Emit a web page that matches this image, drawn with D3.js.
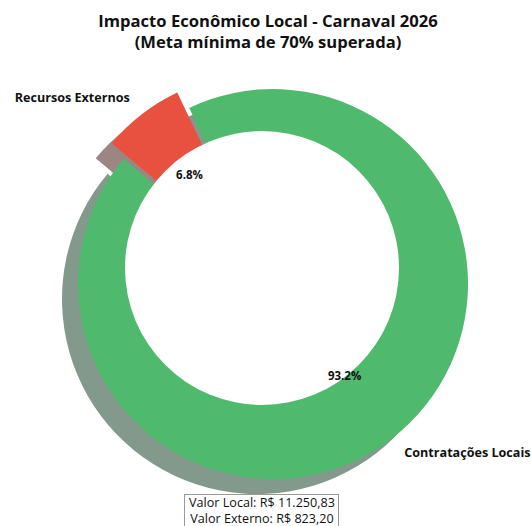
<!DOCTYPE html>
<html>
<head>
<meta charset="utf-8">
<script src="https://cdn.jsdelivr.net/npm/d3@7"></script>
<style>
  body { margin: 0; background: #fff; }
  text { font-family: "Open Sans", "Noto Sans", sans-serif; }
</style>
</head>
<body>
<svg id="chart" width="531" height="526"></svg>
<script>
// data
var categories = ['Contratações Locais', 'Recursos Externos'];
var values = [11250.83, 823.20];
var explode = [0, 0.1];
var colors = ['#4fb96e', '#e8513f'];
var shadowColors = ['#82998c', '#9c8683'];
var titleLines = ['Impacto Econômico Local - Carnaval 2026', '(Meta mínima de 70% superada)'];
var boxLines = ['Valor Local: R$ 11.250,83', 'Valor Externo: R$ 823,20'];

var svg = d3.select('#chart');
var cx = 273, cy = 284, R = 195;
var hole = {x: 262, y: 268, r: 137};
var shadowOff = {x: -16, y: 15};

// matplotlib startangle 140, counterclockwise -> d3 angles (clockwise from 12 o'clock)
var start = (90 - 140) * Math.PI / 180;
var pie = d3.pie().sort(null).value(function(d) { return d; })
    .startAngle(start).endAngle(start - 2 * Math.PI);
var arcs = pie(values);
var total = d3.sum(values);

var arc = d3.arc().innerRadius(0).outerRadius(R);

function mid(d) { return (d.startAngle + d.endAngle) / 2; }
function offset(d, i, k) {
    var a = mid(d);
    return [Math.sin(a) * R * k, -Math.cos(a) * R * k];
}

// shadows
svg.append('g')
    .attr('transform', 'translate(' + (cx + shadowOff.x) + ',' + (cy + shadowOff.y) + ')')
  .selectAll('path').data(arcs).enter().append('path')
    .attr('transform', function(d, i) { var o = offset(d, i, explode[i]); return 'translate(' + o[0] + ',' + o[1] + ')'; })
    .attr('d', arc)
    .attr('fill', function(d, i) { return shadowColors[i]; });

// wedges
svg.append('g')
    .attr('transform', 'translate(' + cx + ',' + cy + ')')
  .selectAll('path').data(arcs).enter().append('path')
    .attr('transform', function(d, i) { var o = offset(d, i, explode[i]); return 'translate(' + o[0] + ',' + o[1] + ')'; })
    .attr('d', arc)
    .attr('fill', function(d, i) { return colors[i]; });

// centre hole
svg.append('circle')
    .attr('cx', hole.x).attr('cy', hole.y).attr('r', hole.r)
    .attr('fill', '#fff');

var lab = svg.append('g').attr('transform', 'translate(' + cx + ',' + cy + ')');

// category labels
lab.selectAll('.cat').data(arcs).enter().append('text')
    .attr('class', 'cat')
    .attr('x', function(d, i) { return offset(d, i, 1.1 + explode[i])[0]; })
    .attr('y', function(d, i) { return offset(d, i, 1.1 + explode[i])[1]; })
    .attr('text-anchor', function(d, i) { return offset(d, i, 1)[0] > 0 ? 'start' : 'end'; })
    .attr('dominant-baseline', 'middle')
    .attr('font-size', '12.6px')
    .attr('font-weight', 'bold')
    .attr('fill', '#111')
    .text(function(d, i) { return categories[i]; });

// percentages
lab.selectAll('.pct').data(arcs).enter().append('text')
    .attr('class', 'pct')
    .attr('x', function(d, i) { return offset(d, i, 0.6 + explode[i])[0]; })
    .attr('y', function(d, i) { return offset(d, i, 0.6 + explode[i])[1]; })
    .attr('text-anchor', 'middle')
    .attr('dominant-baseline', 'middle')
    .attr('font-size', '11.5px')
    .attr('font-weight', 'bold')
    .attr('fill', '#111')
    .text(function(d) { return (d.value / total * 100).toFixed(1) + '%'; });

// title
svg.append('g').selectAll('text').data(titleLines).enter().append('text')
    .attr('x', 268)
    .attr('y', function(d, i) { return 27 + i * 21; })
    .attr('text-anchor', 'middle')
    .attr('font-size', '16.6px')
    .attr('font-weight', 'bold')
    .attr('fill', '#111')
    .text(function(d) { return d; });

// value box
var box = svg.append('g');
box.append('rect')
    .attr('x', 184.5).attr('y', 494.5).attr('width', 154).attr('height', 40)
    .attr('fill', '#fff').attr('stroke', '#999').attr('stroke-width', 1);
box.selectAll('text').data(boxLines).enter().append('text')
    .attr('x', 262)
    .attr('y', function(d, i) { return 507 + i * 16; })
    .attr('text-anchor', 'middle')
    .attr('font-size', '12.6px')
    .attr('fill', '#111')
    .text(function(d) { return d; });
</script>
</body>
</html>
